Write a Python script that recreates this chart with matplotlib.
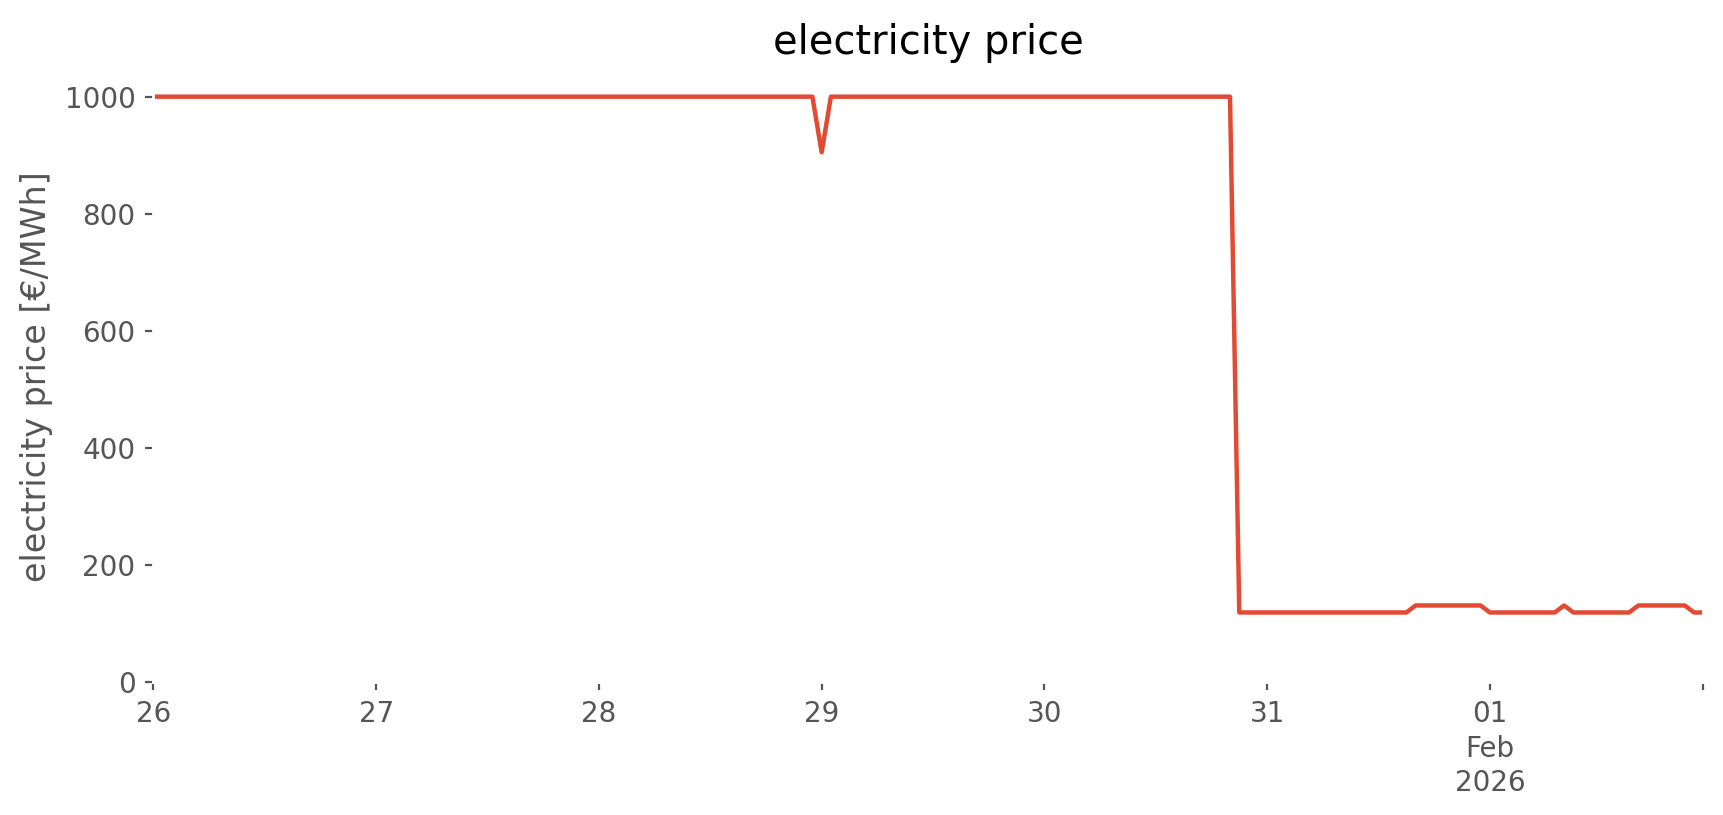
import numpy as np
import pandas as pd
import matplotlib
matplotlib.use('Agg')
import matplotlib.pyplot as plt

# hourly prices, 2026-01-26 00:00 .. 2026-02-01 23:00
hours = pd.date_range('2026-01-26 00:00', periods=168, freq='h')
price = ([1000.0] * 72 + [905.0] + [1000.0] * 44      # up to Jan 30 20:00
         + [119.0] * 19                                # Jan 30 21:00 .. Jan 31 15:00
         + [131.0] * 8                                 # Jan 31 16:00 .. 23:00
         + [119.0] * 8                                 # Feb 01 00:00 .. 07:00
         + [131.0]                                     # Feb 01 08:00
         + [119.0] * 7                                 # Feb 01 09:00 .. 15:00
         + [131.0] * 6                                 # Feb 01 16:00 .. 21:00
         + [119.0] * 2)                                # Feb 01 22:00 .. 23:00

tick_days = pd.date_range('2026-01-26', periods=7, freq='D')
tick_labels = ['26', '27', '28', '29', '30', '31', '01\nFeb\n2026']

plt.style.use('ggplot')
fig, ax = plt.subplots(figsize=(8.62, 4.075), dpi=200)
fig.patch.set_facecolor('white')
ax.set_facecolor('white')
ax.grid(False)

ax.plot(hours, price, color='#E24A33', lw=1.6)

ax.set_xlim(hours[0], hours[-1])
ax.set_ylim(0, 1044)
ax.set_xticks(list(tick_days) + [hours[-1]])
ax.set_xticklabels(tick_labels + [''], linespacing=1.3)
ax.set_yticks([0, 200, 400, 600, 800, 1000])
ax.tick_params(colors='#555555', labelsize=10, length=3)

ax.set_ylabel('electricity price [€/MWh]', color='#555555', fontsize=12)
ax.set_title('electricity price', fontsize=14.4)

plt.subplots_adjust(left=0.089, right=0.988, top=0.913, bottom=0.163)
plt.savefig('out.png', dpi=200, facecolor='white')
